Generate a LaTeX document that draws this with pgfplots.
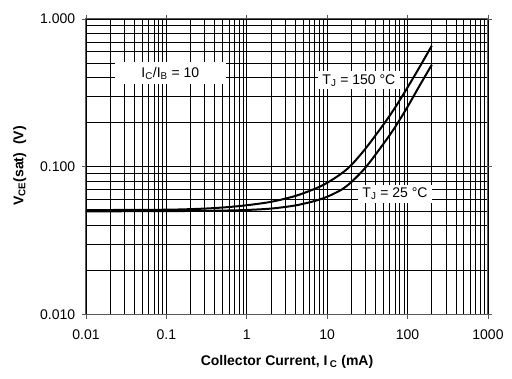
\documentclass[border=0pt]{standalone}
\usepackage{pgfplots}
\pgfplotsset{compat=1.18}
\usepackage{fontspec}
\setmainfont{Liberation Sans}
\begin{document}
\fontsize{14}{16}\selectfont
\begin{tikzpicture}
\path[use as bounding box] (-86pt,-64.3pt) rectangle (426pt,314.7pt);
\begin{axis}[
  scale only axis,
  width=402pt, height=295.7pt,
  xmode=log, ymode=log,
  xmin=0.01, xmax=1000, ymin=0.01, ymax=1,
  xtick={0.01,0.1,1,10,100,1000},
  xticklabels={0.01,0.1,1,10,100,1000},
  ytick={0.01,0.1,1},
  yticklabels={0.010,0.100,1.000},
  grid=both,
  major grid style={black, line width=0.8pt},
  minor grid style={black, line width=0.8pt},
  tick align=outside,
  major tick length=4pt,
  minor tick length=0pt,
  tick style={gray!70!black, line width=0.8pt},
  axis line style={gray!70!black, line width=1pt},
  xticklabel style={font=\fontsize{14}{16}\selectfont, yshift=-6pt},
  yticklabel style={font=\fontsize{14}{16}\selectfont, xshift=-2pt},
  xlabel={\textbf{Collector Current, I\,\textsubscript{C} (mA)}},
  ylabel={\textbf{V\textsubscript{CE}(sat)\ \ (V)}},
  xlabel style={font=\fontsize{14}{16}\selectfont, at={(axis description cs:0.5,-0.16)}, anchor=center},
  ylabel style={font=\fontsize{14}{16}\selectfont, at={(axis description cs:-0.165,0.503)}, anchor=center},
]
\addplot[black, line width=2pt, smooth] coordinates {
(0.01,0.0510) (0.1,0.0513) (0.3,0.0522) (0.6,0.0535) (1,0.0550) (2,0.0580) (4,0.0635) (7,0.071) (10,0.078) (15,0.090) (20,0.103) (30,0.133) (50,0.193) (70,0.252) (100,0.345) (140,0.47) (200,0.66)
};
\addplot[black, line width=2pt, smooth] coordinates {
(0.01,0.0500) (0.1,0.0502) (0.3,0.0504) (0.6,0.0507) (1,0.0511) (2,0.0522) (4,0.0548) (7,0.0588) (10,0.0628) (15,0.0700) (20,0.079) (30,0.099) (50,0.143) (70,0.186) (100,0.255) (140,0.352) (200,0.49)
};
\node[fill=white, minimum width=111pt, minimum height=22pt, inner sep=0pt] at (axis cs:0.112,0.428) {I\textsubscript{C}/I\textsubscript{B} = 10};
\node[fill=white, minimum width=82pt, minimum height=18pt, inner sep=0pt] at (axis cs:24.8,0.384) {T\textsubscript{J} = 150 °C};
\node[fill=white, minimum width=74pt, minimum height=18pt, inner sep=0pt] at (axis cs:69.7,0.0658) {T\textsubscript{J} = 25 °C};
\end{axis}
\end{tikzpicture}
\end{document}
